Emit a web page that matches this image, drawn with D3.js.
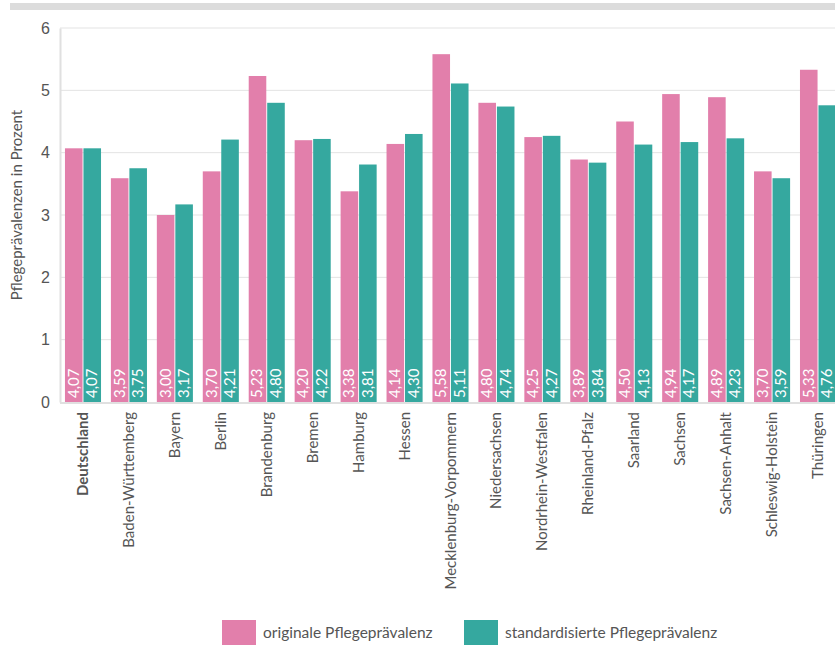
<!DOCTYPE html>
<html>
<head>
<meta charset="utf-8">
<script src="https://cdn.jsdelivr.net/npm/d3@7"></script>
<style>
  html, body { margin: 0; padding: 0; background: #fff; }
  svg { display: block; font-family: Lato, "Open Sans", sans-serif; }
</style>
</head>
<body>
<svg id="chart" width="835" height="645"></svg>
<script>
const regions = ["Deutschland", "Baden-Württemberg", "Bayern", "Berlin", "Brandenburg", "Bremen", "Hamburg", "Hessen", "Mecklenburg-Vorpommern", "Niedersachsen", "Nordrhein-Westfalen", "Rheinland-Pfalz", "Saarland", "Sachsen", "Sachsen-Anhalt", "Schleswig-Holstein", "Thüringen"];
const original = [4.07, 3.59, 3.00, 3.70, 5.23, 4.20, 3.38, 4.14, 5.58, 4.80, 4.25, 3.89, 4.50, 4.94, 4.89, 3.70, 5.33];
const standardised = [4.07, 3.75, 3.17, 4.21, 4.80, 4.22, 3.81, 4.30, 5.11, 4.74, 4.27, 3.84, 4.13, 4.17, 4.23, 3.59, 4.76];
const seriesNames = ["originale Pflegeprävalenz", "standardisierte Pflegeprävalenz"];
const seriesColors = ["#e27fab", "#35a89f"];
const yTicks = [0, 1, 2, 3, 4, 5, 6];

const svg = d3.select("#chart");
const plotLeft = 60, plotTop = 28, plotBottom = 402, plotRight = 841;

// header strip
svg.append("rect").attr("x", 10).attr("y", 3).attr("width", 825).attr("height", 7).attr("fill", "#dcdcdc");

const x0 = d3.scaleBand().domain(regions).range([plotLeft, plotRight]).paddingInner(0.215).paddingOuter(0.108);
const x1 = d3.scaleBand().domain([0, 1]).range([0, x0.bandwidth()]).paddingInner(0.05);
const y = d3.scaleLinear().domain([0, 6]).range([plotBottom, plotTop]);

// grid
svg.append("g").selectAll("line").data(yTicks.filter(d => d > 0)).join("line")
  .attr("x1", plotLeft).attr("x2", 835).attr("y1", d => y(d)).attr("y2", d => y(d))
  .attr("stroke", "#e3e3e3").attr("stroke-width", 1);

// y axis
const yAxis = svg.append("g").attr("transform", `translate(${plotLeft},0)`)
  .call(d3.axisLeft(y).tickValues(yTicks).tickSize(0).tickPadding(10).tickFormat(d3.format("d")));
yAxis.select(".domain").attr("stroke", "#e0e0e0").attr("stroke-width", 2);
yAxis.selectAll("text").attr("fill", "#555").style("font-size", "16px");

svg.append("text")
  .attr("transform", `translate(22,${(plotTop + plotBottom) / 2 - 10}) rotate(-90)`)
  .attr("text-anchor", "middle").attr("fill", "#555").style("font-size", "15px")
  .text("Pflegeprävalenzen in Prozent");

// bars
const groups = svg.append("g").selectAll("g").data(regions).join("g")
  .attr("transform", d => `translate(${x0(d)},0)`);

groups.each(function(r, i) {
  const g = d3.select(this);
  [original[i], standardised[i]].forEach((v, s) => {
    g.append("rect")
      .attr("x", x1(s)).attr("y", y(v))
      .attr("width", x1.bandwidth()).attr("height", y(0) - y(v))
      .attr("fill", seriesColors[s]);
    g.append("text")
      .attr("transform", `translate(${x1(s) + x1.bandwidth() / 2 + 5},${y(0) - 4}) rotate(-90)`)
      .attr("fill", "#fff").style("font-size", "15px")
      .text(d3.format(".2f")(v).replace(".", ","));
  });
});

// x axis baseline
svg.append("line").attr("x1", plotLeft).attr("x2", 835).attr("y1", plotBottom + 1).attr("y2", plotBottom + 1)
  .attr("stroke", "#e0e0e0").attr("stroke-width", 2);

// category labels
svg.append("g").selectAll("text").data(regions).join("text")
  .attr("transform", d => `translate(${x0(d) + x0.bandwidth() / 2 + 5},${plotBottom + 10}) rotate(-90)`)
  .attr("text-anchor", "end").attr("fill", "#555").style("font-size", "15px")
  .style("font-weight", (d, i) => i === 0 ? "bold" : "normal")
  .text(d => d);

// legend
const legendX = [222, 464];
const legend = svg.append("g").selectAll("g").data(seriesNames).join("g")
  .attr("transform", (d, i) => `translate(${legendX[i]},620)`);
legend.append("rect").attr("width", 34).attr("height", 25).attr("fill", (d, i) => seriesColors[i]);
legend.append("text").attr("x", 41).attr("y", 18).attr("fill", "#555").style("font-size", "15.5px").text(d => d);
</script>
</body>
</html>
